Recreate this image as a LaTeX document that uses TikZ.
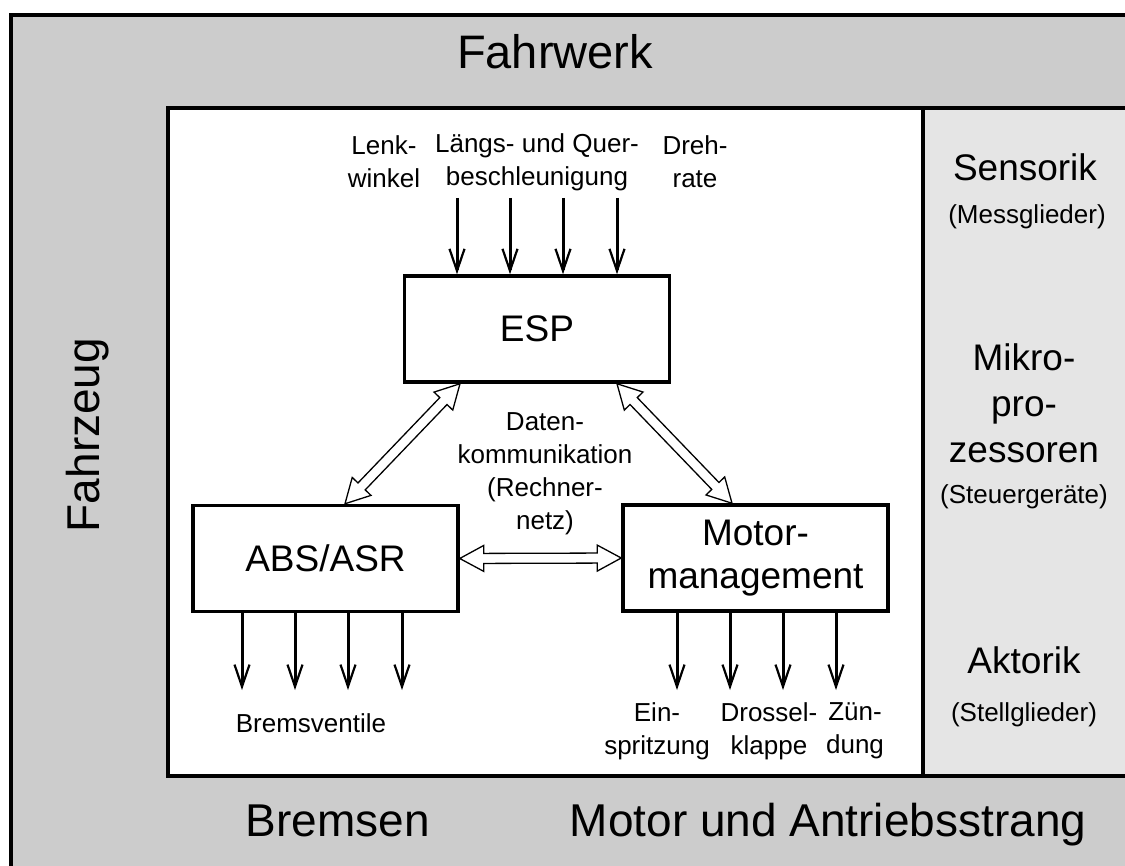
\documentclass[tikz,border=0pt]{standalone}
\usepackage{fontspec}
\setmainfont{Liberation Sans}
\usetikzlibrary{calc,arrows.meta}
\newcommand{\hollowarrow}[2]{%
 \draw[hollow] (#1) -- ($(#1)!27.3pt!28.4:(#2)$) -- ($(#1)!24.5pt!11.8:(#2)$)
  -- ($(#2)!24.5pt!-11.8:(#1)$) -- ($(#2)!27.3pt!-28.4:(#1)$) -- (#2)
  -- ($(#2)!27.3pt!28.4:(#1)$) -- ($(#2)!24.5pt!11.8:(#1)$)
  -- ($(#1)!24.5pt!-11.8:(#2)$) -- ($(#1)!27.3pt!-28.4:(#2)$) -- cycle;}
\begin{document}
\begin{tikzpicture}[x=1pt,y=-1pt,
 frame/.style={line width=3.5pt},
 blk/.style={draw, line width=3.5pt, fill=white, inner sep=0pt, align=center,
   minimum width=265pt, minimum height=106pt, font=\fontsize{37}{43}\selectfont},
 sig/.style={line width=3pt, -{Straight Barb[length=22pt,width=15pt,line width=2.2pt]}},
 hollow/.style={fill=white, line width=1.3pt, line join=miter},
 big/.style={font=\fontsize{46}{50}\selectfont, inner sep=0pt},
 mid/.style={font=\fontsize{37}{46}\selectfont, align=center, inner sep=0pt},
 small/.style={font=\fontsize{26}{33}\selectfont, align=center, inner sep=0pt},
]
\useasboundingbox (0,0) rectangle (1125,866);
\clip (0,0) rectangle (1125,866);
% background frames
\draw[frame, fill=black!20] (11,15) rectangle (1140,880);
\draw[frame, fill=white] (168,108) rectangle (923,776);
\draw[frame, fill=black!10] (923,108) rectangle (1140,776);

% frame labels
\node[big, anchor=base, font=\fontsize{47}{50}\selectfont] (fahrwerk) at (555,69) {Fahrwerk};
\node[big, rotate=90] (fahrzeug) at (88,435) {Fahrzeug};
\node[big, anchor=base] (bremsen) at (338,836) {Bremsen};
\node[big, anchor=base] (motorab) at (828,836) {Motor und Antriebsstrang};

% right column
\node[mid] (sens) at (1025,167) {Sensorik};
\node[small] (mess) at (1027,217) {(Messglieder)};
\node[mid] (mikro) at (1024,403) {Mikro-\\pro-\\zessoren};
\node[small] (steuer) at (1024,497) {(Steuergeräte)};
\node[mid] (akt) at (1024,660) {Aktorik};
\node[small] (stell) at (1024,715) {(Stellglieder)};

% blocks
\node[blk] (esp) at (537,329) {ESP};
\node[blk] (abs) at (325.5,558.5) {ABS/ASR};
\node[blk] (mot) at (755.5,558) {Motor-\\management};

% sensor inputs
\node[small] (lenk) at (384,162) {Lenk-\\winkel};
\node[small] (laengs) at (537,162) {Längs- und Quer-\\beschleunigung};
\node[small] (dreh) at (695,162) {Dreh-\\rate};
\foreach \x [count=\i] in {457,510,563,617}{
  \coordinate (in\i) at (\x,198);
  \draw[sig] (in\i) -- (in\i |- esp.north);
}

% outputs
\foreach \x [count=\i] in {242,295,348,402}{
  \coordinate (ab\i) at (\x,690);
  \draw[sig] (ab\i |- abs.south) -- (ab\i);
}
\foreach \x [count=\i] in {677,730,783,836}{
  \coordinate (mo\i) at (\x,690);
  \draw[sig] (mo\i |- mot.south) -- (mo\i);
}
\node[small, anchor=base] (brv) at (311,732) {Bremsventile};
\node[small] (ein) at (657,731) {Ein-\\spritzung};
\node[small] (dros) at (769,731) {Drossel-\\klappe};
\node[small] (zuen) at (855,731) {Zün-\\dung};

% data communication
\node[small] (daten) at (545,474) {Daten-\\kommunikation\\(Rechner-\\netz)};
\coordinate (d1) at ($(esp.south)+(-77,0)$);
\coordinate (d2) at ($(abs.north)+(19.5,0)$);
\coordinate (d3) at ($(esp.south)+(80,0)$);
\coordinate (d4) at ($(mot.north)+(-23.5,0)$);
\hollowarrow{d1}{d2}
\hollowarrow{d3}{d4}
\hollowarrow{abs.east}{mot.west}
\end{tikzpicture}
\end{document}
